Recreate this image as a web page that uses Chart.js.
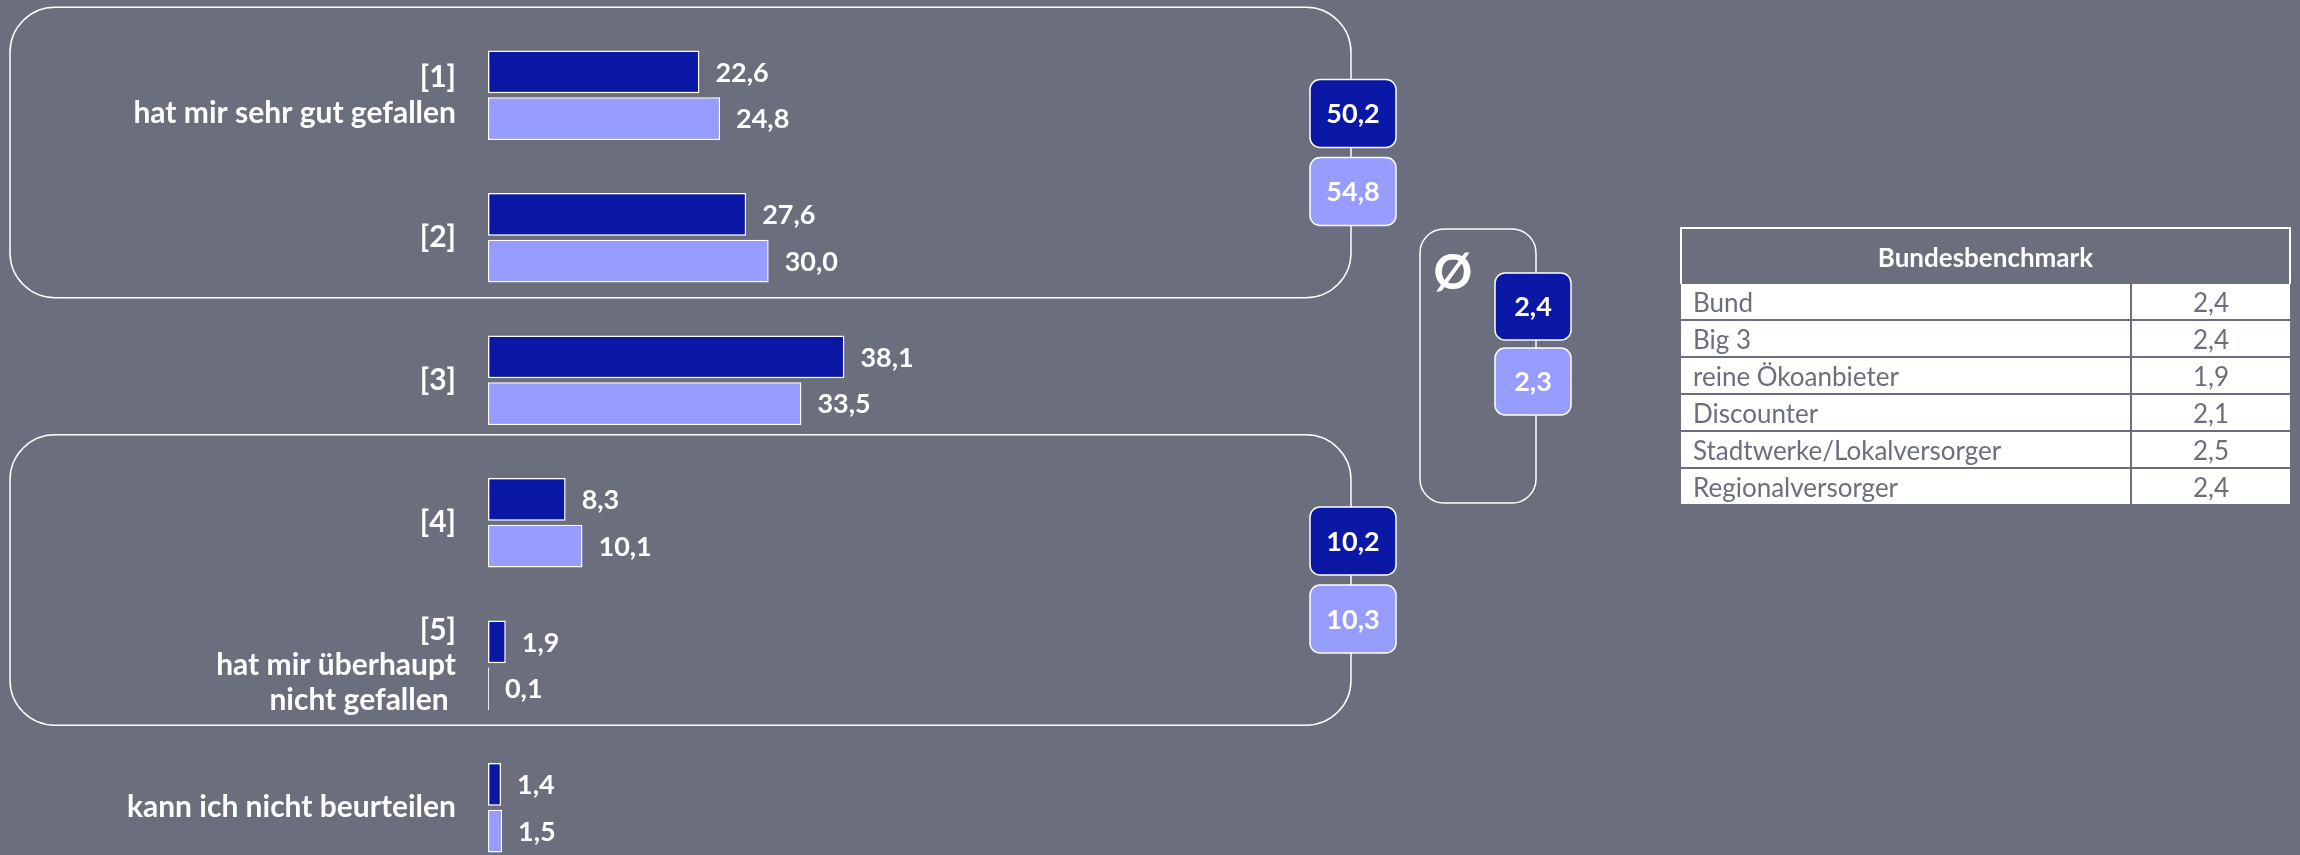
<!DOCTYPE html>
<html>
<head>
<meta charset="utf-8">
<script src="https://cdn.jsdelivr.net/npm/chart.js@4.4.1/dist/chart.umd.min.js"></script>
<style>
  html, body { margin: 0; padding: 0; width: 2300px; height: 855px; overflow: hidden; background: #6b6e7d; }
  #wrap { position: absolute; left: 0; top: 0; width: 2300px; height: 900px; }
  #bench { position: absolute; left: 1680px; top: 227px; width: 611px; border-collapse: collapse; font-family: Lato, sans-serif; }
  #bench th { height: 55px; background: #6b6e7d; color: #fff; font: bold 26px Lato; border: 2px solid #fff; border-bottom: none; padding: 0; }
  #bench td { background: #fff; color: #6b6e7d; font: 26px Lato; height: 35px; padding: 0 0 0 12px; border-bottom: 2.5px solid #6b6e7d; }
  #bench td.v { text-align: center; border-left: 2.5px solid #6b6e7d; width: 158px; padding: 0; }
  #bench tr:last-child td { border-bottom: none; }
</style>
</head>
<body>
<div id="wrap"><canvas id="chart" width="2300" height="900"></canvas></div>
<table id="bench"></table>
<script>
// Antwortkategorien und Werte (in %)
const categories = [
  ["[1]", "hat mir sehr gut gefallen"],
  "[2]",
  "[3]",
  "[4]",
  ["[5]", "hat mir überhaupt", "nicht gefallen "],
  "kann ich nicht beurteilen"
];
const seriesA = [22.6, 27.6, 38.1, 8.3, 1.9, 1.4];
const seriesB = [24.8, 30.0, 33.5, 10.1, 0.1, 1.5];

// Zusammenfassungen: Top-2, Bottom-2, Mittelwert
const topTwo = [50.2, 54.8];
const bottomTwo = [10.2, 10.3];
const average = [2.4, 2.3];

// Bundesbenchmark
const benchTitle = "Bundesbenchmark";
const benchLabels = ["Bund", "Big 3", "reine Ökoanbieter", "Discounter", "Stadtwerke/Lokalversorger", "Regionalversorger"];
const benchValues = [2.4, 2.4, 1.9, 2.1, 2.5, 2.4];

const darkBlue = "#0b17a5";
const lightBlue = "#969dff";

const fmt = (v) => v.toFixed(1).replace(".", ",");

// Tabelle aufbauen
const table = document.getElementById("bench");
let html = `<tr><th colspan="2">${benchTitle}</th></tr>`;
benchLabels.forEach((label, i) => {
  html += `<tr><td>${label}</td><td class="v">${fmt(benchValues[i])}</td></tr>`;
});
table.innerHTML = html;

// Werte rechts neben den Balken
const barValueLabels = {
  id: "barValueLabels",
  afterDatasetsDraw(chart) {
    const ctx = chart.ctx;
    ctx.save();
    ctx.font = "bold 27px Lato";
    ctx.fillStyle = "#fff";
    ctx.textBaseline = "middle";
    ctx.textAlign = "left";
    chart.data.datasets.forEach((ds, i) => {
      chart.getDatasetMeta(i).data.forEach((bar, j) => {
        ctx.fillText(fmt(ds.data[j]), bar.x + 16, bar.y + 1);
      });
    });
    ctx.restore();
  }
};

function roundedBox(ctx, x, y, w, h, r) {
  ctx.beginPath();
  ctx.roundRect(x, y, w, h, r);
}

function valueBox(ctx, cx, y, w, h, fill, value) {
  roundedBox(ctx, cx - w / 2, y, w, h, 10);
  ctx.fillStyle = fill;
  ctx.fill();
  ctx.lineWidth = 1.5;
  ctx.strokeStyle = "#fff";
  ctx.stroke();
  ctx.fillStyle = "#fff";
  ctx.font = "bold 27px Lato";
  ctx.textAlign = "center";
  ctx.textBaseline = "middle";
  ctx.fillText(fmt(value), cx, y + h / 2 + 1);
}

// Klammern um Top-2 / Bottom-2 sowie Mittelwert-Kasten
const summaryBoxes = {
  id: "summaryBoxes",
  afterDraw(chart) {
    const ctx = chart.ctx;
    const y = chart.scales.y;
    const right = 1351;
    const groups = [
      { from: 0, to: 1, values: topTwo },
      { from: 3, to: 4, values: bottomTwo }
    ];
    ctx.save();
    groups.forEach((g) => {
      const top = y.getPixelForValue(g.from) - 88;
      const bottom = y.getPixelForValue(g.to) + 60;
      roundedBox(ctx, 10, top, right - 10, bottom - top, 45);
      ctx.lineWidth = 1.5;
      ctx.strokeStyle = "#fff";
      ctx.stroke();
      const mid = (top + bottom) / 2;
      valueBox(ctx, right + 2, mid - 73, 86, 68, darkBlue, g.values[0]);
      valueBox(ctx, right + 2, mid + 5, 86, 68, lightBlue, g.values[1]);
    });

    // Mittelwert
    roundedBox(ctx, 1420, 229, 116, 274, 24);
    ctx.lineWidth = 1.5;
    ctx.strokeStyle = "#fff";
    ctx.stroke();
    ctx.fillStyle = "#fff";
    ctx.font = "bold 48px Lato";
    ctx.textAlign = "center";
    ctx.textBaseline = "middle";
    ctx.fillText("Ø", 1453, 274);
    valueBox(ctx, 1533, 273, 76, 67, darkBlue, average[0]);
    valueBox(ctx, 1533, 348, 76, 67, lightBlue, average[1]);
    ctx.restore();
  }
};

new Chart(document.getElementById("chart"), {
  type: "bar",
  data: {
    labels: categories,
    datasets: [
      {
        data: seriesA,
        backgroundColor: darkBlue,
        borderColor: "#fff",
        borderWidth: 1.5,
        borderSkipped: false
      },
      {
        data: seriesB,
        backgroundColor: lightBlue,
        borderColor: "#fff",
        borderWidth: 1.5,
        borderSkipped: false
      }
    ]
  },
  options: {
    indexAxis: "y",
    responsive: false,
    animation: false,
    events: [],
    categoryPercentage: 0.656,
    barPercentage: 0.912,
    layout: { padding: { left: 0, right: 876.5, top: 24, bottom: 21 } },
    scales: {
      x: { display: false, min: 0, max: 100 },
      y: {
        grid: { display: false, drawTicks: false },
        border: { display: false },
        afterFit(scale) {
          scale.width = 488;
          scale.paddingTop = 0;
          scale.paddingBottom = 0;
        },
        ticks: {
          autoSkip: false,
          padding: 32,
          color: "#fff",
          font: { family: "Lato", weight: "bold", size: 30, lineHeight: 1.18 }
        }
      }
    },
    plugins: {
      legend: { display: false },
      tooltip: { enabled: false }
    }
  },
  plugins: [barValueLabels, summaryBoxes]
});
</script>
</body>
</html>
